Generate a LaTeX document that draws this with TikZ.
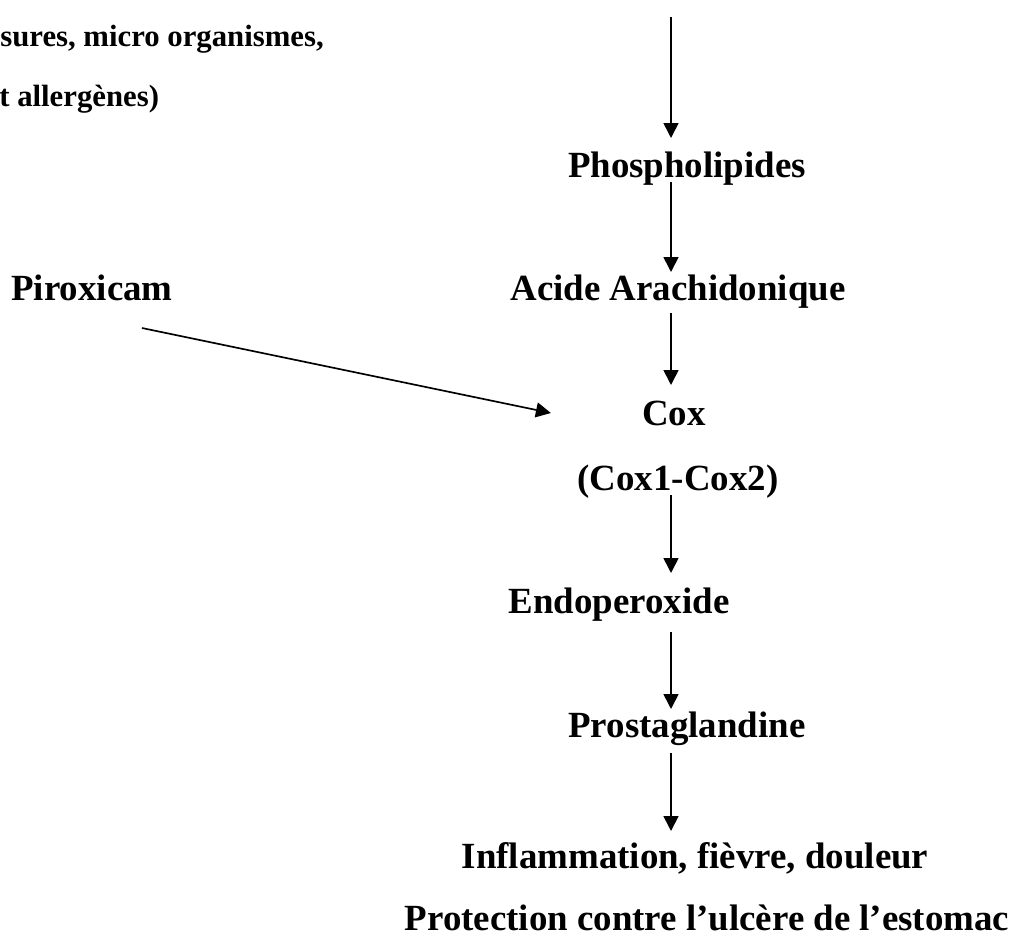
\documentclass[tikz,border=0pt]{standalone}
\usepackage{fontspec}
\setmainfont{Liberation Serif}
\usetikzlibrary{arrows.meta, positioning, calc}

\begin{document}
\begin{tikzpicture}[
    x=0.02cm, y=-0.02cm,
    label/.style={
        inner sep=0pt, anchor=base,
        font=\fontsize{21}{25}\selectfont\bfseries
    },
    note/.style={
        inner sep=0pt, anchor=base west,
        font=\fontsize{17.5}{21}\selectfont\bfseries
    },
    arrow/.style={-{Triangle[width=8.5pt,length=8.5pt]}, line width=0.95pt}
]
    \useasboundingbox (0,0) rectangle (1014,936);
    \coordinate (col) at (671,0);
    \coordinate (start) at (671,17);

    %% Causes (cut at the page edge)
    \node[note] (cause1) at (0,47) {sures, micro organismes,};
    \node[note] (cause2) at (-1,107) {t allergènes)};

    %% Cascade
    \node[label] (phos) at (687,177) {Phospholipides};
    \node[label] (acide) at (678,300) {Acide Arachidonique};
    \node[label] (cox) at (674,425) {Cox};
    \node[label] (coxs) at (678,490) {(Cox1-Cox2)};
    \node[label] (endo) at (619,613) {Endoperoxide};
    \node[label] (prosta) at (687,737) {Prostaglandine};
    \node[label] (inflam) at (695,868) {Inflammation, fièvre, douleur};
    \node[label] (protect) at (707,930) {Protection contre l’ulcère de l’estomac};

    %% Inhibitor
    \node[label, anchor=base west] (pirox) at (11,300) {Piroxicam};

    \draw[arrow] (start) -- ($(phos.base -| col)+(0,-39)$);
    \draw[arrow] ($(phos.base -| col)+(0,5)$) -- ($(acide.base -| col)+(0,-28)$);
    \draw[arrow] ($(acide.base -| col)+(0,13)$) -- ($(cox.base -| col)+(0,-40)$);
    \draw[arrow] ($(coxs.base -| col)+(0,5)$) -- ($(endo.base -| col)+(0,-40)$);
    \draw[arrow] ($(endo.base -| col)+(0,19)$) -- ($(prosta.base -| col)+(0,-28)$);
    \draw[arrow] ($(prosta.base -| col)+(0,16)$) -- ($(inflam.base -| col)+(0,-37)$);
    \draw[arrow] ($(pirox.base east)+(-31,28)$) -- ($(cox.base west)+(-91,-12)$);
\end{tikzpicture}
\end{document}
